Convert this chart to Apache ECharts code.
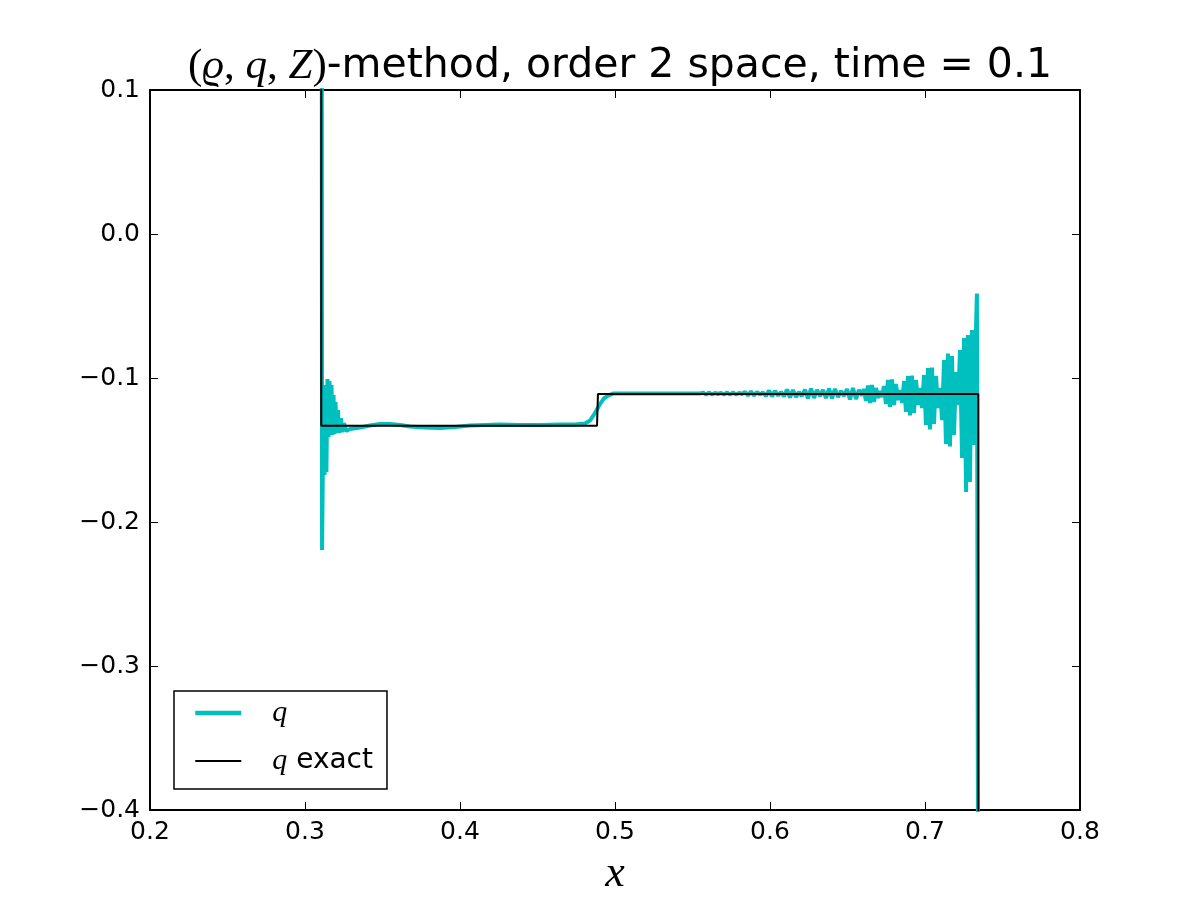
<!DOCTYPE html>
<html>
<head>
<meta charset="utf-8">
<title>q, order 2 space, time = 0.1</title>
<script src="https://cdn.jsdelivr.net/npm/echarts@6.0.0/dist/echarts.min.js"></script>
<style>
  html, body { margin: 0; padding: 0; background: #fff; }
  #chart { width: 1200px; height: 900px; }
</style>
</head>
<body>
<div id="chart"></div>
<script>
const cyan = '#00BFBF'

// axis ticks
const xTicks = { min: 0.2, max: 0.8, step: 0.1 }
const yTicks = { min: -0.4, max: 0.1, step: 0.1 }

// exact solution [x, q]
const qExact = [
  [0.2, 0.6], [0.3105, 0.6], [0.3105, -0.1331], [0.4884, -0.1331],
  [0.4890, -0.1111], [0.7344, -0.1111], [0.7344, -0.6], [0.8, -0.6]
]

// numerical q: shock at the left
const qShock = [
  [0.2, 0.6], [0.3106, 0.6], [0.3110, -0.2194], [0.3119, -0.1188], [0.3126, -0.1674],
  [0.3132, -0.1049], [0.3138, -0.1653], [0.3145, -0.1007], [0.3152, -0.1410],
  [0.3158, -0.1021], [0.3165, -0.1389], [0.3171, -0.1049], [0.3177, -0.1396],
  [0.3184, -0.1118], [0.3190, -0.1389], [0.3197, -0.1167], [0.3203, -0.1382],
  [0.3213, -0.1222], [0.3219, -0.1382], [0.3232, -0.1278], [0.3239, -0.1375],
  [0.3252, -0.1313], [0.3265, -0.1368], [0.3290, -0.1354]
]

// numerical q: plateau and contact step
const qPlateau = [
  [0.3355, -0.1344], [0.3419, -0.1330], [0.3484, -0.1319], [0.3548, -0.1319],
  [0.3613, -0.1326], [0.3677, -0.1337], [0.3774, -0.1344], [0.3871, -0.1347],
  [0.3968, -0.1340], [0.4065, -0.1330], [0.4161, -0.1326], [0.4258, -0.1323],
  [0.4387, -0.1326], [0.4516, -0.1326], [0.4645, -0.1323], [0.4742, -0.1323],
  [0.4806, -0.1316], [0.4839, -0.1295], [0.4871, -0.1243], [0.4903, -0.1181],
  [0.4929, -0.1142], [0.4955, -0.1122], [0.4987, -0.1108], [0.5097, -0.1108],
  [0.5290, -0.1108]
]

// numerical q: oscillations behind the right front
const qWaves = [
  [0.5548, -0.1108], [0.5568, -0.1101], [0.5587, -0.1115], [0.5606, -0.1101],
  [0.5626, -0.1115], [0.5645, -0.1104], [0.5665, -0.1111], [0.5684, -0.1104],
  [0.5703, -0.1115], [0.5723, -0.1101], [0.5742, -0.1115], [0.5761, -0.1101],
  [0.5781, -0.1115], [0.5800, -0.1104], [0.5819, -0.1111], [0.5839, -0.1097],
  [0.5858, -0.1122], [0.5877, -0.1094], [0.5897, -0.1122], [0.5916, -0.1097],
  [0.5935, -0.1115], [0.5955, -0.1101], [0.5974, -0.1125], [0.5994, -0.1087],
  [0.6013, -0.1128], [0.6032, -0.1090], [0.6052, -0.1122], [0.6071, -0.1097],
  [0.6090, -0.1128], [0.6110, -0.1080], [0.6129, -0.1135], [0.6148, -0.1083],
  [0.6168, -0.1132], [0.6187, -0.1097], [0.6206, -0.1125], [0.6226, -0.1080],
  [0.6245, -0.1142], [0.6265, -0.1073], [0.6284, -0.1139], [0.6303, -0.1083],
  [0.6323, -0.1125], [0.6342, -0.1083], [0.6361, -0.1139], [0.6381, -0.1073],
  [0.6400, -0.1142], [0.6419, -0.1076], [0.6439, -0.1132], [0.6458, -0.1090],
  [0.6477, -0.1125], [0.6497, -0.1076], [0.6516, -0.1149], [0.6535, -0.1069],
  [0.6555, -0.1146], [0.6574, -0.1083], [0.6594, -0.1122], [0.6606, -0.1076],
  [0.6619, -0.1160], [0.6632, -0.1052], [0.6645, -0.1174], [0.6658, -0.1049],
  [0.6671, -0.1167], [0.6684, -0.1069], [0.6697, -0.1139], [0.6710, -0.1090],
  [0.6723, -0.1132], [0.6735, -0.1056], [0.6748, -0.1181], [0.6761, -0.1014],
  [0.6774, -0.1201], [0.6787, -0.1010], [0.6800, -0.1188], [0.6813, -0.1042],
  [0.6826, -0.1153], [0.6839, -0.1083], [0.6852, -0.1174], [0.6865, -0.1021],
  [0.6877, -0.1236], [0.6890, -0.0986], [0.6903, -0.1260], [0.6916, -0.0983],
  [0.6929, -0.1243], [0.6942, -0.1014], [0.6955, -0.1188], [0.6968, -0.1069],
  [0.6981, -0.1208], [0.6994, -0.0979], [0.7006, -0.1326], [0.7019, -0.0931],
  [0.7032, -0.1358], [0.7045, -0.0927], [0.7058, -0.1319], [0.7071, -0.0986],
  [0.7084, -0.1208], [0.7097, -0.1069], [0.7110, -0.1292], [0.7123, -0.0875],
  [0.7135, -0.1458], [0.7148, -0.0830], [0.7161, -0.1476], [0.7174, -0.0847],
  [0.7187, -0.1396], [0.7200, -0.0958], [0.7213, -0.1188], [0.7226, -0.0806],
  [0.7239, -0.1556], [0.7252, -0.0722], [0.7265, -0.1792], [0.7277, -0.0701],
  [0.7290, -0.1722], [0.7303, -0.0667], [0.7316, -0.1465], [0.7329, -0.0653],
  [0.7335, -0.0413], [0.7345, -0.6], [0.8, -0.6]
]

const qNum = qShock.concat(qPlateau, qWaves)

const tickFmt = v => {
  if (Math.abs(v) < 1e-9) return '0.0'
  return v < 0 ? '\u2212' + Math.abs(v).toFixed(1) : v.toFixed(1)
}

const labelFont = { fontFamily: 'DejaVu Sans', fontSize: 25, color: '#000' }
const frame = { onZero: false, lineStyle: { color: '#000', width: 2 } }
const ticks = { inside: true, length: 8, lineStyle: { color: '#000', width: 1 } }

const chart = echarts.init(document.querySelector('#chart'))

chart.setOption({
  animation: false,
  backgroundColor: '#fff',
  title: {
    text: '{p|(}{m|\u03f1}{p|, }{m|q}{p|, }{m|Z}{p|)}-method, order 2 space, time = 0.1',
    left: 615,
    textAlign: 'center',
    top: 40,
    textStyle: {
      fontFamily: 'DejaVu Sans',
      fontSize: 41,
      fontWeight: 'normal',
      color: '#000',
      rich: {
        p: { fontFamily: 'Liberation Serif', fontSize: 43, color: '#000' },
        m: { fontFamily: 'Liberation Serif', fontStyle: 'italic', fontSize: 43, color: '#000' }
      }
    }
  },
  legend: {
    orient: 'vertical',
    left: 174,
    top: 691,
    data: [
      { name: 'q', lineStyle: { width: 4.5 } },
      { name: 'q exact', lineStyle: { width: 2 } }
    ],
    itemWidth: 46,
    itemHeight: 14,
    itemGap: 18,
    padding: [7, 14, 13, 19],
    borderColor: '#000',
    borderWidth: 1.5,
    backgroundColor: '#fff',
    itemStyle: { opacity: 0 },
    formatter: name => name === 'q' ? '{m|q}' : '{m|q} exact',
    textStyle: {
      fontFamily: 'DejaVu Sans',
      fontSize: 28,
      color: '#000',
      padding: [0, 0, 0, 26],
      rich: {
        m: { fontFamily: 'Liberation Serif', fontStyle: 'italic', fontSize: 30, color: '#000' }
      }
    }
  },
  grid: { left: 150, right: 120, top: 90, bottom: 90, outerBoundsMode: 'none' },
  xAxis: [{
    type: 'value', position: 'bottom',
    min: xTicks.min, max: xTicks.max, interval: xTicks.step,
    axisLine: frame, axisTick: ticks, splitLine: { show: false },
    axisLabel: Object.assign({ margin: 10, formatter: tickFmt }, labelFont),
    name: 'x', nameLocation: 'middle', nameGap: 42,
    nameTextStyle: { fontFamily: 'Liberation Serif', fontStyle: 'italic', fontSize: 44, color: '#000' }
  }, {
    type: 'value', position: 'top',
    min: xTicks.min, max: xTicks.max, interval: xTicks.step,
    axisLine: frame, axisTick: ticks, splitLine: { show: false },
    axisLabel: { show: false }
  }],
  yAxis: [{
    type: 'value', position: 'left',
    min: yTicks.min, max: yTicks.max, interval: yTicks.step,
    axisLine: frame, axisTick: ticks, splitLine: { show: false },
    axisLabel: Object.assign({ margin: 10, formatter: tickFmt }, labelFont)
  }, {
    type: 'value', position: 'right',
    min: yTicks.min, max: yTicks.max, interval: yTicks.step,
    axisLine: frame, axisTick: ticks, splitLine: { show: false },
    axisLabel: { show: false }
  }],
  series: [{
    name: 'q',
    type: 'line',
    data: qNum,
    showSymbol: false,
    symbol: 'none',
    clip: true,
    lineStyle: { color: cyan, width: 4 },
    itemStyle: { color: cyan }
  }, {
    name: 'q exact',
    type: 'line',
    data: qExact,
    showSymbol: false,
    symbol: 'none',
    clip: true,
    lineStyle: { color: '#000', width: 2 },
    itemStyle: { color: '#000' }
  }]
})
</script>
</body>
</html>
